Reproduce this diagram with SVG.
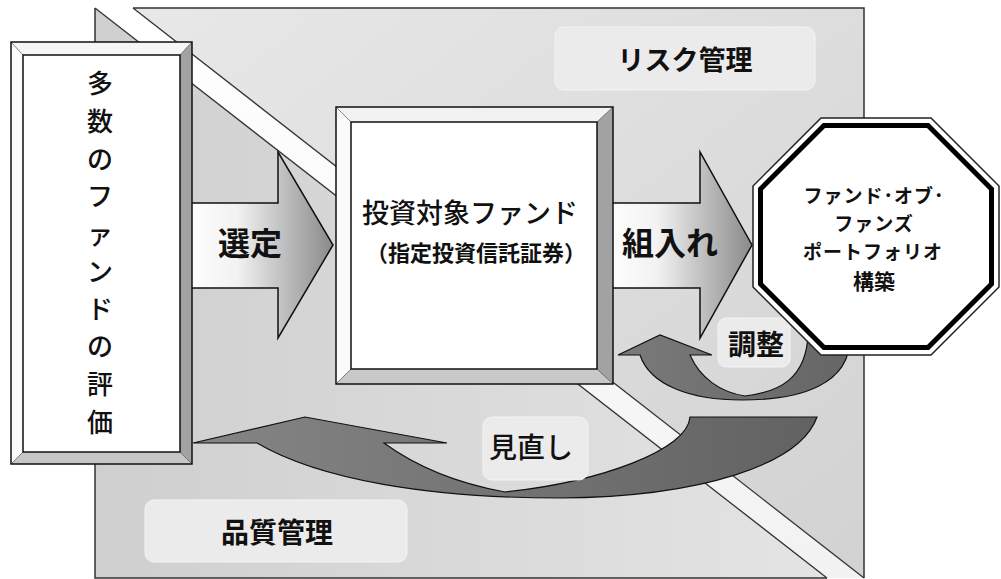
<svg xmlns="http://www.w3.org/2000/svg" width="1001" height="579" viewBox="0 0 1001 579">
<style>
  text { font-family: "Noto Sans CJK JP", "Noto Sans", sans-serif; fill: #111; text-anchor: middle; dominant-baseline: central; }
  .b { font-weight: bold; }
  .m { font-weight: 500; }
  .col { font-size: 26px; font-weight: 500; }
  .lbl { fill: #ebebeb; stroke: #f4f4f4; stroke-width: 1; }
  .frame { fill: none; stroke: #111; stroke-width: 1.5; }
  .corner { stroke: #666; stroke-width: 0.8; }
  .band { stroke: #333; stroke-width: 1.3; }
  .curv { stroke: #111; stroke-width: 1.2; }
  .oct { font-size: 19px; font-weight: bold; letter-spacing: 1px; }
</style>
<defs>
  <linearGradient id="gTop" x1="0" y1="0" x2="1" y2="1">
    <stop offset="0" stop-color="#e8e8e8"/>
    <stop offset="1" stop-color="#d2d2d2"/>
  </linearGradient>
  <linearGradient id="gBot" x1="0" y1="0" x2="1" y2="0">
    <stop offset="0" stop-color="#cfcfcf"/>
    <stop offset="1" stop-color="#e4e4e4"/>
  </linearGradient>
  <linearGradient id="gBand" x1="0" y1="0" x2="1" y2="1">
    <stop offset="0" stop-color="#ffffff"/>
    <stop offset="1" stop-color="#f2f2f2"/>
  </linearGradient>
  <linearGradient id="gArrow" x1="0" y1="0" x2="1" y2="0">
    <stop offset="0" stop-color="#ffffff"/>
    <stop offset="0.35" stop-color="#f2f2f2"/>
    <stop offset="1" stop-color="#8a8a8a"/>
  </linearGradient>
  <linearGradient id="gCurve" x1="0" y1="0" x2="1" y2="0">
    <stop offset="0" stop-color="#858585"/>
    <stop offset="1" stop-color="#626262"/>
  </linearGradient>
  <linearGradient id="gCurve2" x1="0" y1="0" x2="1" y2="0">
    <stop offset="0" stop-color="#7a7a7a"/>
    <stop offset="1" stop-color="#666666"/>
  </linearGradient>
</defs>

<g id="background">
  <polygon points="133,8 864,8 864,578" fill="url(#gTop)"/>
  <polygon points="95,8 95,578 827,578" fill="url(#gBot)"/>
  <polygon points="95,8 133,8 864,578 827,578" fill="url(#gBand)"/>
  <line x1="95" y1="8" x2="827" y2="578" class="band"/>
  <line x1="133" y1="8" x2="864" y2="578" class="band"/>
  <polyline points="133,8 864,8 864,578" fill="none" stroke="#333" stroke-width="1.5"/>
  <polyline points="95,8 95,578 827,578" fill="none" stroke="#333" stroke-width="1.5"/>
</g>

<g id="label-risk">
  <rect x="555" y="27" width="260" height="63" rx="9" class="lbl"/>
  <text x="685" y="58" font-size="27" class="b">リスク管理</text>
</g>
<g id="label-quality">
  <rect x="145" y="500" width="262" height="62" rx="9" class="lbl"/>
  <text x="277" y="531" font-size="28" class="b">品質管理</text>
</g>

<g id="connectors">
  <polygon points="185,203 278,203 278,152 333,245 278,338 278,288 185,288" fill="url(#gArrow)" stroke="#111" stroke-width="1.5"/>
  <polygon points="606,203 700,203 700,152 752,245 700,338 700,288 606,288" fill="url(#gArrow)" stroke="#111" stroke-width="1.5"/>
  <path d="M 193,443 L 305,417 L 447,443 L 384,443 C 410,462 450,482 505,492 C 600,482 688,450 690,417 L 817,417 C 800,465 700,497 560,498 C 430,498 320,480 257,443 Z" fill="url(#gCurve)" class="curv"/>
  <path d="M 618,355 L 660,335 L 712,355 L 690,355 C 700,378 720,392 745,396 C 780,392 806,378 808,335 L 850,335 C 852,385 800,400 742,400 C 690,400 650,385 640,355 Z" fill="url(#gCurve2)" class="curv"/>
</g>

<g id="label-select">
  <text x="250" y="241" font-size="32" class="b">選定</text>
</g>
<g id="label-include">
  <text x="670" y="241" font-size="32" class="b">組入れ</text>
</g>

<g id="node-evaluation">
  <polygon points="11,42 192,42 180,55 23,55" fill="#f6f6f6"/>
  <polygon points="11,42 23,55 23,452 11,464" fill="#fbfbfb"/>
  <polygon points="192,42 192,464 180,452 180,55" fill="#a2a2a2"/>
  <polygon points="11,464 23,452 180,452 192,464" fill="#c6c6c6"/>
  <rect x="23" y="55" width="157" height="397" fill="#ffffff"/>
  <line x1="11" y1="42" x2="23" y2="55" class="corner"/>
  <line x1="192" y1="42" x2="180" y2="55" class="corner"/>
  <line x1="11" y1="464" x2="23" y2="452" class="corner"/>
  <line x1="192" y1="464" x2="180" y2="452" class="corner"/>
  <rect x="11" y="42" width="181" height="422" class="frame"/>
  <rect x="23" y="55" width="157" height="397" class="frame" stroke-width="1.2"/>
  <text x="100" y="81" class="col">多</text>
  <text x="100" y="119" class="col">数</text>
  <text x="100" y="157" class="col">の</text>
  <text x="100" y="194" class="col">フ</text>
  <text x="100" y="232" class="col">ァ</text>
  <text x="100" y="269" class="col">ン</text>
  <text x="100" y="307" class="col">ド</text>
  <text x="100" y="344" class="col">の</text>
  <text x="100" y="382" class="col">評</text>
  <text x="100" y="420" class="col">価</text>
</g>

<g id="node-target-fund">
  <polygon points="336,107 613,107 597,122 351,122" fill="#f2f2f2"/>
  <polygon points="336,107 351,122 351,369 336,384" fill="#fafafa"/>
  <polygon points="613,107 613,384 597,369 597,122" fill="#a2a2a2"/>
  <polygon points="336,384 351,369 597,369 613,384" fill="#c8c8c8"/>
  <rect x="351" y="122" width="246" height="247" fill="#ffffff"/>
  <line x1="336" y1="107" x2="351" y2="122" class="corner"/>
  <line x1="613" y1="107" x2="597" y2="122" class="corner"/>
  <line x1="336" y1="384" x2="351" y2="369" class="corner"/>
  <line x1="613" y1="384" x2="597" y2="369" class="corner"/>
  <rect x="336" y="107" width="277" height="277" class="frame"/>
  <rect x="351" y="122" width="246" height="247" class="frame" stroke-width="1.2"/>
  <text x="470" y="211" font-size="27" class="m">投資対象ファンド</text>
  <text x="476" y="251" font-size="22" class="b">（指定投資信託証券）</text>
</g>

<g id="label-review">
  <rect x="483" y="417" width="105" height="63" rx="9" class="lbl"/>
  <text x="531" y="446" font-size="28" class="m">見直し</text>
</g>
<g id="label-adjust">
  <rect x="718" y="318" width="72" height="49" rx="8" class="lbl"/>
  <text x="756" y="343" font-size="28" class="b">調整</text>
</g>

<g id="node-fof">
  <polygon points="821,118 931,118 999,186 999,287 931,355 821,355 753,287 753,186" fill="#ffffff" stroke="#222" stroke-width="1.5"/>
  <polygon points="824,125.5 928,125.5 991.5,189 991.5,284 928,347.5 824,347.5 760.5,284 760.5,189" fill="#ffffff" stroke="#000" stroke-width="5"/>
  <text x="874" y="194" class="oct">ファンド･オブ･</text>
  <text x="874" y="222" class="oct">ファンズ</text>
  <text x="873" y="250" class="oct">ポートフォリオ</text>
  <text x="874" y="280" font-size="21" class="b">構築</text>
</g>
</svg>
